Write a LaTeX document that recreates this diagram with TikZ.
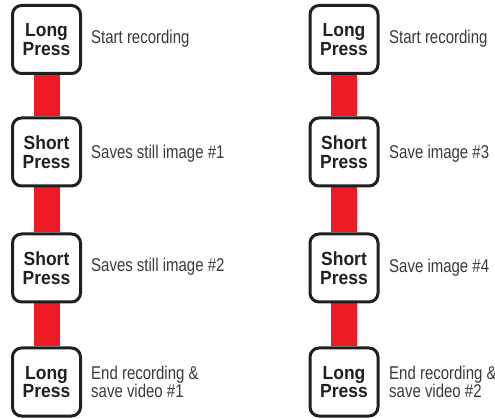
\documentclass[tikz,border=0pt]{standalone}
\usepackage{fontspec}
\setmainfont{Liberation Sans}[FakeStretch=0.81]
\newfontfamily\btfont{Liberation Sans}[FakeStretch=0.92]
\usetikzlibrary{backgrounds}
\definecolor{barred}{HTML}{ED1C24}
\definecolor{ink}{HTML}{231F20}
\definecolor{labgray}{HTML}{3A3A3A}
\tikzset{
  pressbox/.style={draw=ink, line width=3pt, fill=white, rounded corners=9pt,
    minimum width=68pt, minimum height=68pt, inner sep=0pt, align=center,
    text=ink, font=\btfont\bfseries\fontsize{19}{18.5}\selectfont},
  redbar/.style={draw=barred, line width=26pt},
  lab/.style={anchor=base west, inner sep=0pt, text=labgray, align=left,
    font=\fontsize{18.5}{16.7}\selectfont}
}
\begin{document}
\begin{tikzpicture}[x=1pt,y=-1pt]
\useasboundingbox (0,0) rectangle (495,419);
% left column
\node[pressbox] (l1) at (46.5,39.5) {Long\\Press};
\node[pressbox] (l2) at (46.5,152) {Short\\Press};
\node[pressbox] (l3) at (46.5,268) {Short\\Press};
\node[pressbox] (l4) at (46.5,382) {Long\\Press};
% right column
\node[pressbox] (r1) at (344,39.5) {Long\\Press};
\node[pressbox] (r2) at (344,152) {Short\\Press};
\node[pressbox] (r3) at (344,268) {Short\\Press};
\node[pressbox] (r4) at (344,382) {Long\\Press};
\begin{scope}[on background layer]
  \draw[redbar] (l1) -- (l2);
  \draw[redbar] (l2) -- (l3);
  \draw[redbar] (l3) -- (l4);
  \draw[redbar] (r1) -- (r2);
  \draw[redbar] (r2) -- (r3);
  \draw[redbar] (r3) -- (r4);
\end{scope}
% labels
\node[lab] (tl1) at (91,43.3) {Start recording};
\node[lab] (tl2) at (91,159) {Saves still image \#1};
\node[lab] (tl3) at (91,271.7) {Saves still image \#2};
\node[lab] (tl4) at (91,397.3) {End recording \&\\save video \#1};
\node[lab] (tr1) at (389,43.3) {Start recording};
\node[lab] (tr2) at (389,159) {Save image \#3};
\node[lab] (tr3) at (389,272.7) {Save image \#4};
\node[lab] (tr4) at (389,397.3) {End recording \&\\save video \#2};
\end{tikzpicture}
\end{document}
